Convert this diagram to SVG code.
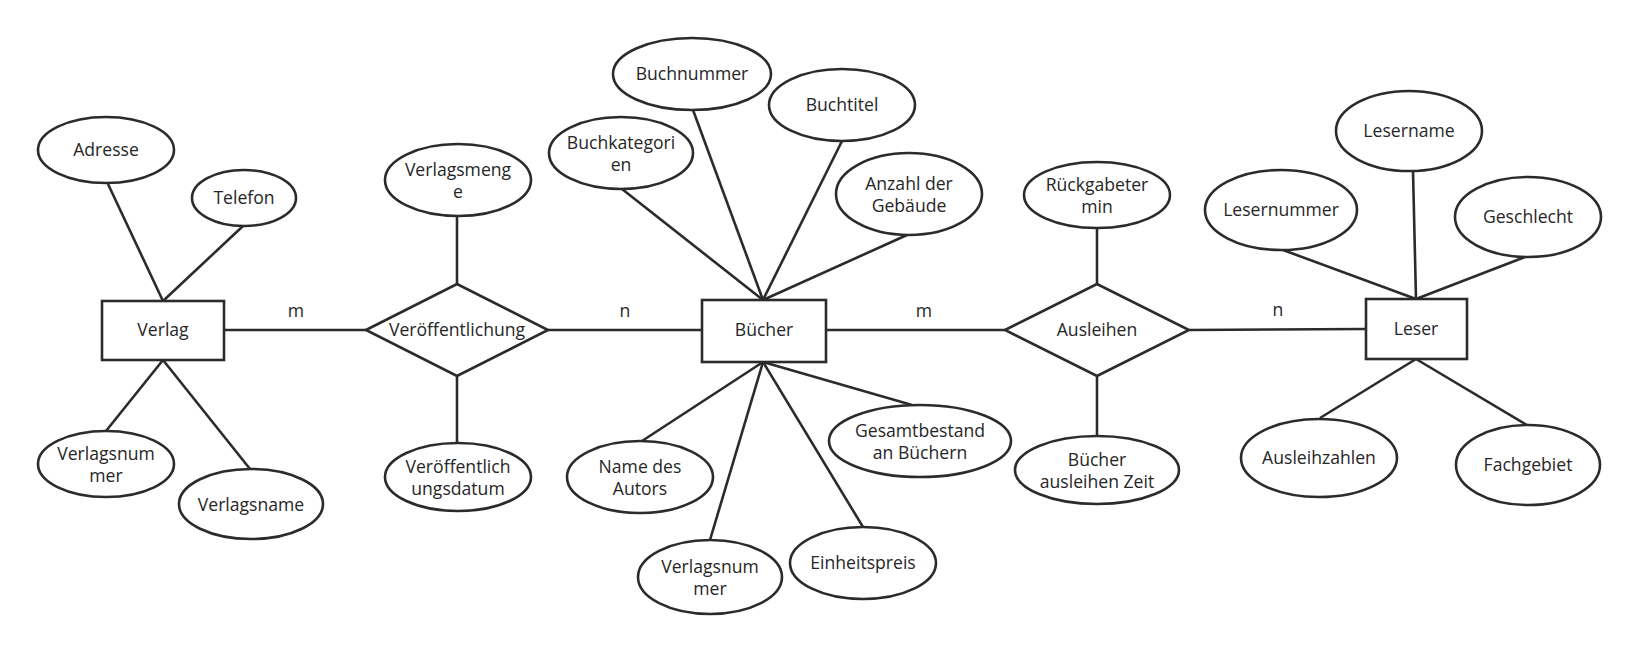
<svg xmlns="http://www.w3.org/2000/svg" width="1637" height="650" viewBox="0 0 1637 650">
<style>
.s{fill:#fff;stroke:#2b2b2b;stroke-width:2.6}
.c line{stroke:#2b2b2b;stroke-width:2.6}
text{font-family:"Open Sans","Noto Sans",sans-serif;font-size:17.6px;fill:#262626;text-anchor:middle}
</style>
<rect width="1637" height="650" fill="#fff"/>
<g class="c" id="connectors">
<line x1="108" y1="184" x2="163" y2="301"/>
<line x1="243" y1="226" x2="163" y2="301"/>
<line x1="163" y1="360" x2="106" y2="431"/>
<line x1="163" y1="360" x2="250" y2="469"/>
<line x1="224" y1="330" x2="366" y2="330"/>
<line x1="457" y1="216" x2="457" y2="284"/>
<line x1="457" y1="376" x2="457" y2="443"/>
<line x1="548" y1="330" x2="702" y2="330"/>
<line x1="622" y1="189" x2="763" y2="300"/>
<line x1="693" y1="110" x2="763" y2="300"/>
<line x1="842" y1="141" x2="763" y2="300"/>
<line x1="907" y1="235" x2="763" y2="300"/>
<line x1="763" y1="362" x2="642" y2="441"/>
<line x1="763" y1="362" x2="710" y2="540"/>
<line x1="763" y1="362" x2="863" y2="527"/>
<line x1="763" y1="362" x2="912" y2="405"/>
<line x1="826" y1="330" x2="1005" y2="330"/>
<line x1="1097" y1="228" x2="1097" y2="284"/>
<line x1="1097" y1="376" x2="1097" y2="436"/>
<line x1="1189" y1="330" x2="1366" y2="329"/>
<line x1="1283" y1="250" x2="1416" y2="299"/>
<line x1="1413" y1="171" x2="1416" y2="299"/>
<line x1="1525" y1="257" x2="1416" y2="299"/>
<line x1="1416" y1="359" x2="1320" y2="418"/>
<line x1="1416" y1="359" x2="1527" y2="425"/>
<text x="296" y="317">m</text>
<text x="625" y="317">n</text>
<text x="924" y="317">m</text>
<text x="1278" y="316">n</text>
</g>
<g id="verlag"><rect class="s" x="102" y="301" width="122" height="59"/><text x="163" y="336">Verlag</text></g>
<g id="adresse"><ellipse class="s" cx="106" cy="150" rx="68" ry="33"/><text x="106" y="156">Adresse</text></g>
<g id="telefon"><ellipse class="s" cx="244" cy="198" rx="52" ry="28"/><text x="244" y="204">Telefon</text></g>
<g id="verlagsnummer1"><ellipse class="s" cx="106" cy="464" rx="68" ry="33"/><text x="106" y="460">Verlagsnum</text><text x="106" y="482">mer</text></g>
<g id="verlagsname"><ellipse class="s" cx="251" cy="504" rx="72" ry="35"/><text x="251" y="511">Verlagsname</text></g>
<g id="veroeffentlichung"><polygon class="s" points="366,330 457,284 548,330 457,376"/><text x="457" y="336">Veröffentlichung</text></g>
<g id="verlagsmenge"><ellipse class="s" cx="458" cy="180" rx="73" ry="36"/><text x="458" y="176">Verlagsmeng</text><text x="458" y="198">e</text></g>
<g id="veroeffentlichungsdatum"><ellipse class="s" cx="458" cy="477" rx="73" ry="34"/><text x="458" y="473">Veröffentlich</text><text x="458" y="495">ungsdatum</text></g>
<g id="buecher"><rect class="s" x="702" y="300" width="124" height="62"/><text x="764" y="336">Bücher</text></g>
<g id="buchnummer"><ellipse class="s" cx="692" cy="74" rx="79" ry="36"/><text x="692" y="80">Buchnummer</text></g>
<g id="buchtitel"><ellipse class="s" cx="842" cy="105" rx="73" ry="36"/><text x="842" y="111">Buchtitel</text></g>
<g id="buchkategorien"><ellipse class="s" cx="621" cy="153" rx="72" ry="36"/><text x="621" y="149">Buchkategori</text><text x="621" y="171">en</text></g>
<g id="anzahl"><ellipse class="s" cx="909" cy="194" rx="73" ry="41"/><text x="909" y="190">Anzahl der</text><text x="909" y="212">Gebäude</text></g>
<g id="autor"><ellipse class="s" cx="640" cy="477" rx="73" ry="36"/><text x="640" y="473">Name des</text><text x="640" y="495">Autors</text></g>
<g id="verlagsnummer2"><ellipse class="s" cx="710" cy="577" rx="72" ry="37"/><text x="710" y="573">Verlagsnum</text><text x="710" y="595">mer</text></g>
<g id="einheitspreis"><ellipse class="s" cx="863" cy="563" rx="73" ry="36"/><text x="863" y="569">Einheitspreis</text></g>
<g id="gesamtbestand"><ellipse class="s" cx="920" cy="441" rx="91" ry="36"/><text x="920" y="437">Gesamtbestand</text><text x="920" y="459">an Büchern</text></g>
<g id="ausleihen"><polygon class="s" points="1005,330 1097,284 1189,330 1097,376"/><text x="1097" y="336">Ausleihen</text></g>
<g id="rueckgabetermin"><ellipse class="s" cx="1097" cy="195" rx="73" ry="33"/><text x="1097" y="191">Rückgabeter</text><text x="1097" y="213">min</text></g>
<g id="ausleihzeit"><ellipse class="s" cx="1097" cy="470" rx="82" ry="34"/><text x="1097" y="466">Bücher</text><text x="1097" y="488">ausleihen Zeit</text></g>
<g id="leser"><rect class="s" x="1366" y="299" width="101" height="60"/><text x="1416" y="335">Leser</text></g>
<g id="lesername"><ellipse class="s" cx="1409" cy="131" rx="73" ry="40"/><text x="1409" y="137">Lesername</text></g>
<g id="lesernummer"><ellipse class="s" cx="1281" cy="210" rx="76" ry="40"/><text x="1281" y="216">Lesernummer</text></g>
<g id="geschlecht"><ellipse class="s" cx="1528" cy="217" rx="73" ry="40"/><text x="1528" y="223">Geschlecht</text></g>
<g id="ausleihzahlen"><ellipse class="s" cx="1319" cy="458" rx="78" ry="39"/><text x="1319" y="464">Ausleihzahlen</text></g>
<g id="fachgebiet"><ellipse class="s" cx="1528" cy="465" rx="72" ry="40"/><text x="1528" y="471">Fachgebiet</text></g>
</svg>
